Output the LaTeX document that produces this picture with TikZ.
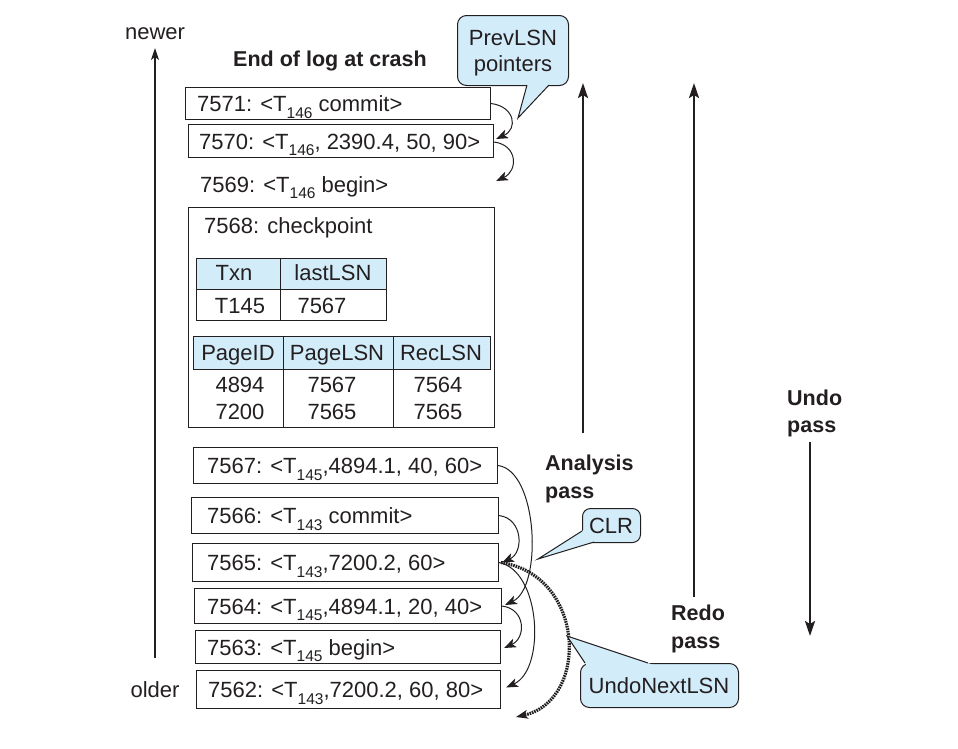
\documentclass[tikz,border=0pt]{standalone}
\usepackage{fontspec}
\setmainfont{Liberation Sans}
\usetikzlibrary{arrows.meta,calc}
\definecolor{cfill}{HTML}{D2ECF9}
\definecolor{ink}{HTML}{231F20}
\newcommand{\lsub}[1]{\raisebox{-0.3em}{\fontsize{15.5}{15.5}\selectfont #1}}
\begin{document}
\begin{tikzpicture}[x=1pt,y=1pt,
  every node/.style={font=\fontsize{22}{26}\selectfont, text=ink},
  logbox/.style={draw=ink, line width=1pt, anchor=north west, inner sep=0pt},
  cell/.style={draw=ink, line width=1pt, anchor=north west, inner sep=0pt},
  hcell/.style={cell, fill=cfill},
  ltext/.style={anchor=base west, inner sep=0pt},
  ctext/.style={anchor=base, inner sep=0pt},
  btext/.style={anchor=base west, inner sep=0pt, font=\fontsize{21.5}{26}\selectfont\bfseries},
  callout/.style={draw=ink, fill=cfill, line width=1pt, rounded corners=9pt, inner sep=0pt, anchor=north west},
  ptr/.style={draw=ink, line width=1pt, -{Stealth[length=12pt,width=9pt,inset=3pt]}},
  undoptr/.style={draw=ink, line width=3.2pt, dash pattern=on 1.6pt off 0.9pt, -{Stealth[length=12pt,width=9pt,inset=3pt,line width=0pt]}},
  pass/.style={draw=ink, line width=2.4pt, -{Stealth[length=15pt,width=10pt,inset=3pt]}},
  time/.style={draw=ink, line width=1.3pt, -{Stealth[length=12pt,width=8pt,inset=3pt]}}
]
\useasboundingbox (0,0) rectangle (958,-748);

% time axis
\node[ctext] (newer) at (155,-39) {newer};
\node[ctext] (older) at (155,-697) {older};
\coordinate (tbot) at (155,-658);
\coordinate (ttop) at (155,-48);
\draw[time] (tbot) -- (ttop);

\node[btext, anchor=base] (eol) at (330,-66) {End of log at crash};

% log records
\node[logbox, minimum width=305, minimum height=32] (b7571) at (185,-87) {};
\node[ltext] (t7571) at ([shift={(12,-8)}]b7571.west) {7571: <T\lsub{146} commit>};
\node[logbox, minimum width=305, minimum height=33] (b7570) at (188,-124) {};
\node[ltext] (t7570) at ([shift={(11,-8)}]b7570.west) {7570: <T\lsub{146}, 2390.4, 50, 90>};
\node[ltext] (t7569) at (200,-192) {7569: <T\lsub{146} begin>};
\coordinate (e7569) at (496,-181);

% checkpoint
\node[logbox, minimum width=306, minimum height=220] (ck) at (188,-207) {};
\node[ltext] (t7568) at (204,-233) {7568: checkpoint};
\node[hcell, minimum width=84, minimum height=31] (h11) at (196,-258) {};
\node[hcell, minimum width=106, minimum height=31] (h12) at (280,-258) {};
\node[cell, minimum width=84, minimum height=31] (d11) at (196,-289) {};
\node[cell, minimum width=106, minimum height=31] (d12) at (280,-289) {};
\node[ctext] at (234,-280) {Txn};
\node[ctext] at (333,-280) {lastLSN};
\node[ctext] at (240,-313) {T145};
\node[ctext] at (322,-313) {7567};
\node[hcell, minimum width=90, minimum height=33] (h21) at (193,-336) {};
\node[hcell, minimum width=110, minimum height=33] (h22) at (283,-336) {};
\node[hcell, minimum width=97, minimum height=33] (h23) at (393,-336) {};
\draw[ink, line width=1pt] (h22.south west) -- (h22.south west |- ck.south);
\draw[ink, line width=1pt] (h23.south west) -- (h23.south west |- ck.south);
\node[ctext] at (238,-360) {PageID};
\node[ctext] at (337,-360) {PageLSN};
\node[ctext] at (441,-360) {RecLSN};
\node[ctext] at (240,-392) {4894};
\node[ctext] at (332,-392) {7567};
\node[ctext] at (438,-392) {7564};
\node[ctext] at (240,-419) {7200};
\node[ctext] at (332,-419) {7565};
\node[ctext] at (438,-419) {7565};

\node[logbox, minimum width=304, minimum height=36] (b7567) at (193,-447) {};
\node[ltext] (t7567) at ([shift={(14,-8)}]b7567.west) {7567: <T\lsub{145},4894.1, 40, 60>};
\node[logbox, minimum width=307, minimum height=36] (b7566) at (191,-497) {};
\node[ltext] (t7566) at ([shift={(16,-8)}]b7566.west) {7566: <T\lsub{143} commit>};
\node[logbox, minimum width=306, minimum height=38] (b7565) at (192,-543) {};
\node[ltext] (t7565) at ([shift={(15,-8)}]b7565.west) {7565: <T\lsub{143},7200.2, 60>};
\node[logbox, minimum width=307, minimum height=35] (b7564) at (194,-588) {};
\node[ltext] (t7564) at ([shift={(13,-8)}]b7564.west) {7564: <T\lsub{145},4894.1, 20, 40>};
\node[logbox, minimum width=305, minimum height=33] (b7563) at (195,-630) {};
\node[ltext] (t7563) at ([shift={(12,-8)}]b7563.west) {7563: <T\lsub{145} begin>};
\node[logbox, minimum width=304, minimum height=38] (b7562) at (196,-670) {};
\node[ltext] (t7562) at ([shift={(12,-8)}]b7562.west) {7562: <T\lsub{143},7200.2, 60, 80>};
\coordinate (eundo) at (516,-717);

% PrevLSN pointers
\draw[ptr] (b7571.east) .. controls +(24,-3) and +(22,10) .. ([shift={(2,2)}]b7570.east);
\draw[ptr] ([yshift=-1]b7570.east) .. controls +(24,-3) and +(22,10) .. (e7569);
\draw[ptr] (b7567.east) .. controls +(40,-5) and +(38,18) .. ([shift={(3,1)}]b7564.east);
\draw[ptr] (b7566.east) .. controls +(24,-3) and +(22,10) .. ([shift={(3,0)}]b7565.east);
\draw[ptr] (b7564.east) .. controls +(24,-3) and +(22,10) .. ([shift={(3,-1)}]b7563.east);
\draw[ptr] (b7565.east) .. controls +(42,-8) and +(40,18) .. ([shift={(5,2)}]b7562.east);
\draw[undoptr] ([shift={(2,0)}]b7565.east) .. controls +(85,-13) and +(73,17) .. (eundo);

% pass arrows
\coordinate (a1) at (583,-433); \coordinate (a2) at (583,-83);
\coordinate (r1) at (694,-597); \coordinate (r2) at (694,-83);
\coordinate (u1) at (810,-442); \coordinate (u2) at (810,-636);
\draw[pass] (a1) -- (a2);
\draw[pass] (r1) -- (r2);
\draw[pass] (u1) -- (u2);
\node[btext] (an1) at (545,-470) {Analysis};
\node[btext] (an2) at (545,-498) {pass};
\node[btext] (rd1) at (671,-620) {Redo};
\node[btext] (rd2) at (671,-648) {pass};
\node[btext] (ud1) at (787,-405) {Undo};
\node[btext] (ud2) at (787,-432) {pass};

% callouts
\node[callout, minimum width=111, minimum height=70] (cprev) at (457,-15) {};
\coordinate (tprev) at (518,-118);
\coordinate (pb1) at (527,-85);
\coordinate (pb2) at (549,-85);
\fill[cfill] (tprev) -- ($(tprev)!1.15!(pb1)$) -- ($(tprev)!1.15!(pb2)$) -- cycle;
\draw[ink, line width=1pt, line join=miter] (pb1) -- (tprev) -- (pb2);
\node[ctext] (cprev1) at (513,-45) {PrevLSN};
\node[ctext] (cprev2) at (513,-71) {pointers};

\node[callout, minimum width=58, minimum height=34, rounded corners=8pt] (cclr) at (582,-508) {};
\coordinate (tclr) at (538,-559);
\coordinate (cb1) at (582,-531);
\coordinate (cb2) at (594,-542);
\fill[cfill] (tclr) -- ($(tclr)!1.25!(cb1)$) -- ($(tclr)!1.25!(cb2)$) -- cycle;
\draw[ink, line width=1pt, line join=miter] (cb1) -- (tclr) -- (cb2);
\node[ctext] (cclrt) at (611,-533) {CLR};

\node[callout, minimum width=158, minimum height=44] (cundo) at (580,-663) {};
\coordinate (tundo) at (567,-636);
\coordinate (ub1) at (585,-663);
\coordinate (ub2) at (648,-663);
\fill[cfill] (tundo) -- ($(tundo)!1.2!(ub1)$) -- ($(tundo)!1.2!(ub2)$) -- cycle;
\draw[ink, line width=1pt, line join=miter] (ub1) -- (tundo) -- (ub2);
\node[ctext] (cundot) at (659,-693) {UndoNextLSN};
\end{tikzpicture}
\end{document}
